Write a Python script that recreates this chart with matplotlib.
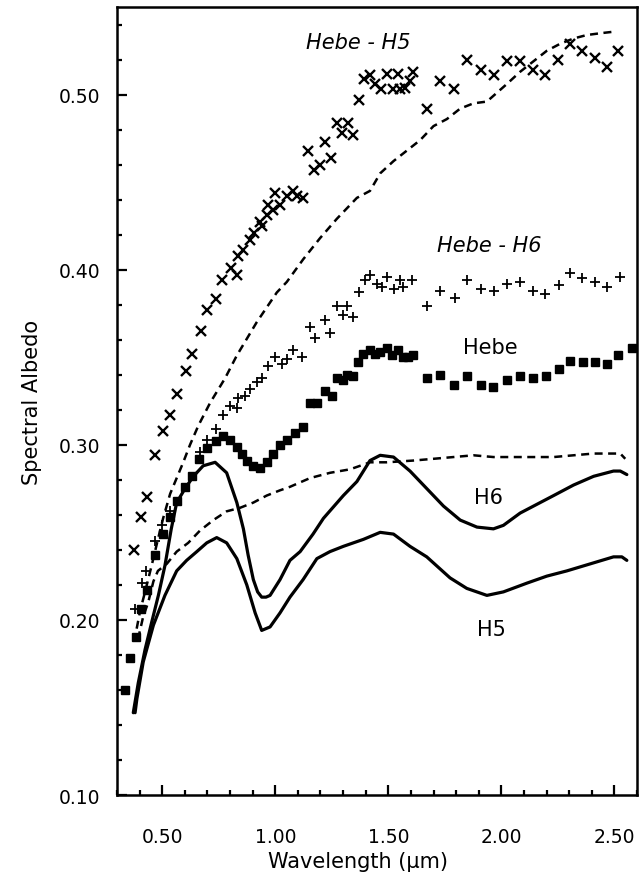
import matplotlib
matplotlib.use("Agg")
import matplotlib.pyplot as plt
from matplotlib.ticker import MultipleLocator, FormatStrFormatter

# Hebe minus H5 ratio spectrum (x markers)
hebe_h5_wl = [0.376, 0.404, 0.434, 0.468, 0.502, 0.534, 0.566, 0.604, 0.630, 0.670,
              0.696, 0.736, 0.766, 0.804, 0.832, 0.836, 0.858, 0.888, 0.904, 0.932,
              0.940, 0.962, 0.970, 0.992, 1.000, 1.022, 1.050, 1.078, 1.096, 1.124,
              1.146, 1.172, 1.198, 1.220, 1.246, 1.272, 1.294, 1.320, 1.346, 1.370,
              1.392, 1.420, 1.442, 1.466, 1.494, 1.522, 1.544, 1.550, 1.574, 1.596,
              1.608, 1.672, 1.730, 1.792, 1.850, 1.910, 1.966, 2.024, 2.084, 2.140,
              2.194, 2.252, 2.304, 2.356, 2.416, 2.466, 2.518]
hebe_h5_alb = [0.240, 0.259, 0.270, 0.294, 0.308, 0.317, 0.329, 0.342, 0.352, 0.365,
               0.377, 0.383, 0.394, 0.401, 0.397, 0.408, 0.411, 0.417, 0.421, 0.427,
               0.425, 0.431, 0.437, 0.434, 0.444, 0.437, 0.442, 0.445, 0.442, 0.441,
               0.468, 0.457, 0.460, 0.473, 0.464, 0.484, 0.478, 0.484, 0.477, 0.497,
               0.509, 0.511, 0.506, 0.503, 0.512, 0.503, 0.512, 0.503, 0.504, 0.508,
               0.513, 0.492, 0.508, 0.503, 0.520, 0.514, 0.511, 0.519, 0.519, 0.514,
               0.511, 0.520, 0.529, 0.525, 0.521, 0.516, 0.525]

# Hebe minus H6 (+ markers)
hebe_h6_wl = [0.380, 0.409, 0.428, 0.468, 0.498, 0.535, 0.667, 0.697, 0.736, 0.768,
              0.800, 0.830, 0.837, 0.866, 0.888, 0.918, 0.940, 0.970, 0.999, 1.029,
              1.051, 1.080, 1.117, 1.154, 1.176, 1.220, 1.242, 1.272, 1.301, 1.316,
              1.346, 1.372, 1.397, 1.419, 1.449, 1.471, 1.493, 1.523, 1.552, 1.567,
              1.604, 1.670, 1.729, 1.796, 1.850, 1.909, 1.968, 2.024, 2.083, 2.139,
              2.194, 2.253, 2.304, 2.356, 2.415, 2.467, 2.523]
hebe_h6_alb = [0.206, 0.221, 0.228, 0.245, 0.254, 0.262, 0.296, 0.303, 0.309, 0.317,
               0.322, 0.321, 0.327, 0.328, 0.332, 0.336, 0.338, 0.345, 0.350, 0.346,
               0.349, 0.354, 0.350, 0.367, 0.361, 0.371, 0.364, 0.379, 0.374, 0.379,
               0.373, 0.387, 0.394, 0.397, 0.392, 0.390, 0.396, 0.389, 0.394, 0.390,
               0.394, 0.379, 0.388, 0.384, 0.394, 0.389, 0.388, 0.392, 0.393, 0.388,
               0.386, 0.391, 0.398, 0.395, 0.393, 0.390, 0.396]

# Hebe (filled squares)
hebe_wl = [0.335, 0.356, 0.386, 0.404, 0.434, 0.469, 0.505, 0.535, 0.564, 0.601,
           0.631, 0.664, 0.697, 0.738, 0.770, 0.800, 0.830, 0.852, 0.874, 0.903,
           0.933, 0.962, 0.992, 1.021, 1.051, 1.088, 1.124, 1.154, 1.184, 1.220,
           1.250, 1.272, 1.301, 1.316, 1.346, 1.368, 1.390, 1.419, 1.442, 1.464,
           1.493, 1.515, 1.545, 1.567, 1.589, 1.611, 1.670, 1.729, 1.791, 1.850,
           1.909, 1.965, 2.024, 2.083, 2.139, 2.197, 2.253, 2.304, 2.361, 2.415,
           2.467, 2.518, 2.577]
hebe_alb = [0.160, 0.178, 0.190, 0.206, 0.217, 0.237, 0.249, 0.259, 0.268, 0.276,
            0.282, 0.292, 0.298, 0.302, 0.305, 0.303, 0.299, 0.295, 0.291, 0.288,
            0.287, 0.290, 0.295, 0.300, 0.303, 0.307, 0.310, 0.324, 0.324, 0.331,
            0.328, 0.338, 0.337, 0.340, 0.339, 0.347, 0.352, 0.354, 0.352, 0.353,
            0.355, 0.351, 0.354, 0.350, 0.350, 0.351, 0.338, 0.340, 0.334, 0.339,
            0.334, 0.333, 0.337, 0.339, 0.338, 0.339, 0.343, 0.348, 0.347, 0.347,
            0.346, 0.351, 0.355]

# H6 chondrite spectrum (solid)
h6_wl = [0.372, 0.394, 0.424, 0.454, 0.483, 0.512, 0.540, 0.564, 0.601, 0.638,
         0.681, 0.734, 0.785, 0.830, 0.859, 0.880, 0.903, 0.922, 0.940, 0.959,
         0.977, 1.021, 1.065, 1.110, 1.167, 1.213, 1.301, 1.361, 1.419, 1.464,
         1.523, 1.596, 1.670, 1.744, 1.818, 1.892, 1.965, 2.009, 2.083, 2.157,
         2.231, 2.319, 2.408, 2.496, 2.526, 2.555]
h6_alb = [0.147, 0.164, 0.183, 0.199, 0.214, 0.231, 0.252, 0.267, 0.275, 0.282,
          0.288, 0.290, 0.284, 0.267, 0.252, 0.237, 0.223, 0.216, 0.213, 0.213,
          0.214, 0.223, 0.234, 0.239, 0.249, 0.258, 0.271, 0.279, 0.291, 0.294,
          0.293, 0.285, 0.275, 0.265, 0.257, 0.253, 0.252, 0.254, 0.261, 0.266,
          0.271, 0.277, 0.282, 0.285, 0.285, 0.283]

# H5 chondrite spectrum (solid)
h5_wl = [0.380, 0.388, 0.416, 0.461, 0.512, 0.564, 0.608, 0.653, 0.697, 0.741,
         0.785, 0.830, 0.874, 0.911, 0.940, 0.977, 1.021, 1.065, 1.123, 1.184,
         1.242, 1.301, 1.390, 1.464, 1.523, 1.596, 1.670, 1.773, 1.847, 1.936,
         2.009, 2.113, 2.201, 2.290, 2.393, 2.496, 2.533, 2.555]
h5_alb = [0.147, 0.155, 0.176, 0.197, 0.214, 0.228, 0.234, 0.239, 0.244, 0.247,
          0.244, 0.235, 0.220, 0.204, 0.194, 0.196, 0.204, 0.213, 0.223, 0.235,
          0.239, 0.242, 0.246, 0.250, 0.249, 0.242, 0.236, 0.224, 0.218, 0.214,
          0.216, 0.221, 0.225, 0.228, 0.232, 0.236, 0.236, 0.234]

# dashed curves
upper_dash_wl = [0.387, 0.402, 0.424, 0.455, 0.481, 0.504, 0.535, 0.564, 0.593, 0.623,
                 0.660, 0.712, 0.778, 0.830, 0.918, 1.007, 1.051, 1.124, 1.198, 1.272,
                 1.361, 1.419, 1.464, 1.523, 1.582, 1.641, 1.700, 1.759, 1.818, 1.877,
                 1.936, 1.980, 2.024, 2.083, 2.142, 2.201, 2.260, 2.319, 2.378, 2.437,
                 2.504]
upper_dash_alb = [0.195, 0.205, 0.216, 0.232, 0.246, 0.258, 0.272, 0.281, 0.290, 0.300,
                  0.311, 0.324, 0.338, 0.351, 0.370, 0.387, 0.393, 0.406, 0.418, 0.429,
                  0.441, 0.445, 0.455, 0.462, 0.468, 0.474, 0.482, 0.486, 0.492, 0.495,
                  0.496, 0.501, 0.506, 0.513, 0.519, 0.525, 0.529, 0.532, 0.534, 0.535,
                  0.536]

lower_dash_wl = [0.393, 0.416, 0.438, 0.461, 0.481, 0.520, 0.564, 0.615, 0.667, 0.726,
                 0.785, 0.844, 0.903, 0.962, 1.021, 1.065, 1.154, 1.242, 1.331, 1.419,
                 1.493, 1.611, 1.700, 1.788, 1.877, 1.965, 2.054, 2.142, 2.231, 2.319,
                 2.408, 2.481, 2.526, 2.548]
lower_dash_alb = [0.189, 0.202, 0.210, 0.222, 0.228, 0.232, 0.239, 0.244, 0.251, 0.257,
                  0.262, 0.264, 0.267, 0.271, 0.274, 0.276, 0.281, 0.284, 0.286, 0.290,
                  0.290, 0.291, 0.292, 0.293, 0.294, 0.293, 0.293, 0.293, 0.293, 0.294,
                  0.295, 0.295, 0.295, 0.292]

plt.rcParams['font.family'] = ['DejaVu Sans']

fig = plt.figure(figsize=(6.39, 8.79), dpi=100)
ax = fig.add_axes([0.1831, 0.0944, 0.8138, 0.8965])

dash = (0, (3.2, 2.2))
ax.plot(upper_dash_wl, upper_dash_alb, color='black', lw=1.8, linestyle=dash)
ax.plot(lower_dash_wl, lower_dash_alb, color='black', lw=1.8, linestyle=dash)
ax.plot(h6_wl, h6_alb, color='black', lw=2.3, solid_capstyle='round')
ax.plot(h5_wl, h5_alb, color='black', lw=2.3, solid_capstyle='round')

ax.plot(hebe_h5_wl, hebe_h5_alb, linestyle='none', marker='x', color='black',
        markersize=6.5, markeredgewidth=1.7)
ax.plot(hebe_h6_wl, hebe_h6_alb, linestyle='none', marker='+', color='black',
        markersize=7.5, markeredgewidth=1.3)
ax.plot(hebe_wl, hebe_alb, linestyle='none', marker='s', color='black',
        markersize=6.3)

ax.text(1.366, 0.530, 'Hebe - H5', style='italic', fontsize=15, ha='center', va='center')
ax.text(1.946, 0.414, 'Hebe - H6', style='italic', fontsize=15, ha='center', va='center')
ax.text(1.950, 0.356, 'Hebe', fontsize=15, ha='center', va='center')
ax.text(1.942, 0.270, 'H6', fontsize=15, ha='center', va='center')
ax.text(1.955, 0.195, 'H5', fontsize=15, ha='center', va='center')

ax.set_xlim(0.3, 2.6)
ax.set_ylim(0.10, 0.55)
ax.xaxis.set_major_locator(MultipleLocator(0.5))
ax.xaxis.set_minor_locator(MultipleLocator(0.1))
ax.yaxis.set_major_locator(MultipleLocator(0.1))
ax.yaxis.set_minor_locator(MultipleLocator(0.02))
ax.xaxis.set_major_formatter(FormatStrFormatter('%.2f'))
ax.yaxis.set_major_formatter(FormatStrFormatter('%.2f'))
ax.set_xticks([0.5, 1.0, 1.5, 2.0, 2.5])
ax.set_yticks([0.1, 0.2, 0.3, 0.4, 0.5])

ax.tick_params(which='both', direction='in', top=False, right=False, width=1.6)
ax.tick_params(which='major', length=7.5, labelsize=13.5)
ax.tick_params(which='minor', length=3.8)
ax.tick_params(axis='x', which='major', pad=23)
ax.tick_params(axis='y', which='major', pad=12)

for spine in ax.spines.values():
    spine.set_linewidth(1.8)

ax.set_xlabel('Wavelength (\u03bcm)', fontsize=15, va='center')
ax.xaxis.set_label_coords(0.463, -0.0838)
ax.set_ylabel('Spectral Albedo', fontsize=15, va='center')
ax.yaxis.set_label_coords(-0.163, 0.5)

fig.savefig('out.png', dpi=100)
